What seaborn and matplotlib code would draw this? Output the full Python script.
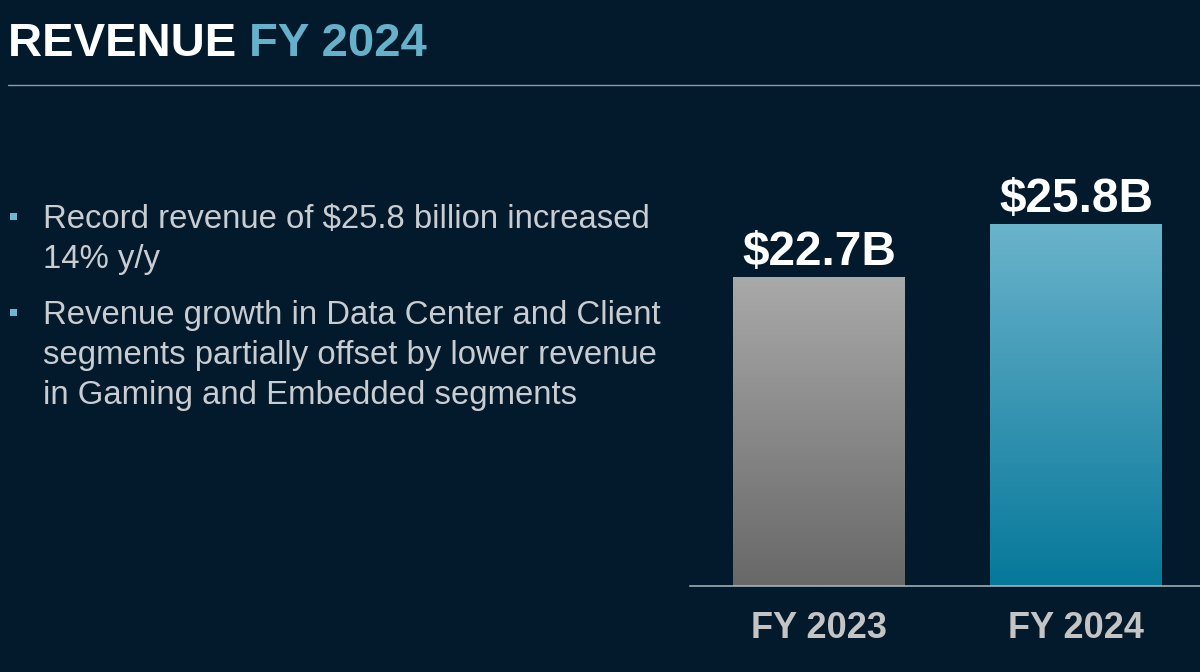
import matplotlib
matplotlib.use("Agg")
import matplotlib.pyplot as plt
from matplotlib.patches import Rectangle
from matplotlib.lines import Line2D
import numpy as np
import pandas as pd
import seaborn as sns

# ---- data ----
years = ["FY 2023", "FY 2024"]
revenue = [22.7, 25.8]
value_labels = ["$22.7B", "$25.8B"]
title_main = "REVENUE "
title_accent = "FY 2024"
bullets = [
    ["Record revenue of $25.8 billion increased", "14% y/y"],
    ["Revenue growth in Data Center and Client",
     "segments partially offset by lower revenue",
     "in Gaming and Embedded segments"],
]

# ---- style ----
BG = "#021a2b"
ACCENT = "#66b0ca"
TEXT = "#c9cdd1"
TICK = "#c4c4c4"
gradients = [("#a9a9a9", "#686868"), ("#6ab3cb", "#06789a")]

sns.set_theme(style="white")
plt.rcParams["font.family"] = ["Liberation Sans", "DejaVu Sans"]

W, H = 1200, 672
fig = plt.figure(figsize=(W / 100, H / 100), dpi=100, facecolor=BG)

def fx(px):
    return px / W

def fy(py):
    return 1 - py / H

# ---- title ----
renderer = fig.canvas.get_renderer()
t1 = fig.text(fx(8), fy(56), title_main, color="white", fontsize=34,
              fontweight="bold", va="baseline", ha="left")
bb = t1.get_window_extent(renderer=renderer)
fig.text(bb.x1 / W, fy(56), title_accent, color=ACCENT, fontsize=34,
         fontweight="bold", va="baseline", ha="left")
fig.add_artist(Line2D([fx(8), 1.0], [fy(85), fy(85)], transform=fig.transFigure,
                      color="#8d9ca7", lw=1.0))

# ---- bullets ----
baseline = 228
for bi, lines in enumerate(bullets):
    fig.add_artist(Rectangle((fx(10), fy(baseline - 8)), 7 / W, 7 / H,
                             transform=fig.transFigure, color="#6db7d3", lw=0))
    for line in lines:
        fig.text(fx(43), fy(baseline), line, color=TEXT, fontsize=23.7,
                 va="baseline", ha="left")
        baseline += 40
    baseline += 16

# ---- bar chart ----
ax = fig.add_axes([fx(690), 1 - 586 / H, 510 / W, 486 / H])
ax.set_facecolor(BG)
df = pd.DataFrame({"year": years, "revenue": revenue})
sns.barplot(data=df, x="year", y="revenue", ax=ax, width=0.669,
            color="#888888", edgecolor="none", saturation=1)

ylim = (4.63, 33.06)
xlim = (-0.502, 1.482)

for patch, (ctop, cbot) in zip(ax.patches, gradients):
    x0 = patch.get_x()
    x1 = x0 + patch.get_width()
    h = patch.get_height()
    c1 = np.array(matplotlib.colors.to_rgb(ctop))
    c2 = np.array(matplotlib.colors.to_rgb(cbot))
    t = np.linspace(0, 1, 256)[:, None]
    grad = (c1[None, :] * (1 - t) + c2[None, :] * t)[:, None, :]
    im = ax.imshow(grad, extent=[x0, x1, ylim[0], h], origin="upper",
                   aspect="auto", zorder=patch.get_zorder() + 0.1)
    im.set_clip_path(patch)

for i, (v, lab) in enumerate(zip(revenue, value_labels)):
    ax.annotate(lab, (i, v), xytext=(0, 8.5), textcoords="offset points",
                ha="center", va="baseline", color="white", fontsize=34.5,
                fontweight="bold")

ax.set_xlim(*xlim)
ax.set_ylim(*ylim)
ax.set_xlabel("")
ax.set_ylabel("")
ax.set_yticks([])
ax.tick_params(axis="x", length=0, pad=18, labelsize=26, colors=TICK)
for lbl in ax.get_xticklabels():
    lbl.set_fontweight("bold")
for s in ["top", "right", "left"]:
    ax.spines[s].set_visible(False)
ax.spines["bottom"].set_color("#aeb9c1")
ax.spines["bottom"].set_linewidth(1.1)

fig.savefig("out.png", dpi=100, facecolor=BG)
